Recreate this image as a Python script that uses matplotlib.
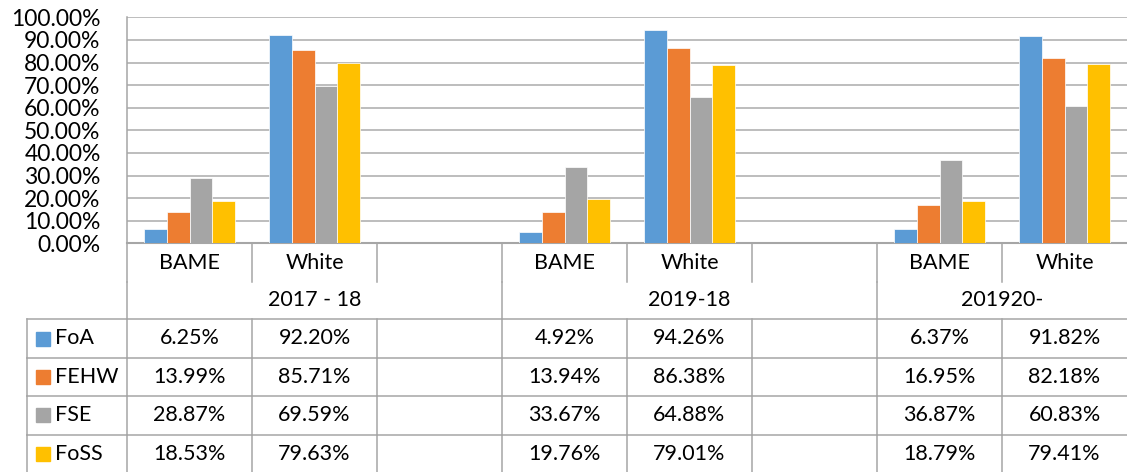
import numpy as np
import matplotlib
matplotlib.use('Agg')
import matplotlib.pyplot as plt

plt.rcParams['font.family'] = ['Lato', 'DejaVu Sans']

categories = ['BAME', 'White', '', 'BAME', 'White', '', 'BAME', 'White']
groups = ['2017 - 18', '2019-18', '201920-']
series = ['FoA', 'FEHW', 'FSE', 'FoSS']
colors = ['#5B9BD5', '#ED7D31', '#A5A5A5', '#FFC000']

foa = [6.25, 92.20, 4.92, 94.26, 6.37, 91.82]
fehw = [13.99, 85.71, 13.94, 86.38, 16.95, 82.18]
fse = [28.87, 69.59, 33.67, 64.88, 36.87, 60.83]
foss = [18.53, 79.63, 19.76, 79.01, 18.79, 79.41]
values = [foa, fehw, fse, foss]

W, H = 1127, 472
fig = plt.figure(figsize=(W / 100, H / 100), dpi=100)

# pixel layout
left, right, top, bottom = 127, 1127, 17.3, 243.3
ax = fig.add_axes([left / W, (H - bottom) / H, (right - left) / W, (bottom - top) / H])

# category positions: BAME/White for each group, with an empty slot between groups
cat_pos = []
for g in range(len(groups)):
    cat_pos += [3 * g, 3 * g + 1]
cat_pos = np.array(cat_pos)

bw = 0.182
for j, (name, vals) in enumerate(zip(series, values)):
    ax.bar(cat_pos + (j - 1.5) * bw, vals, width=bw, color=colors[j],
           edgecolor='white', linewidth=0.5, zorder=3)

ax.set_xlim(-0.5, len(categories) - 0.5)
ax.set_ylim(0, 100)
ax.set_yticks(np.arange(0, 101, 10))
ax.set_yticklabels(['%.2f%%' % v for v in np.arange(0, 101, 10)], fontsize=16.5)
ax.tick_params(axis='y', length=0, pad=19)
ax.set_xticks([])
ax.grid(axis='y', color='#ABABAB', linewidth=1.1, zorder=0)
for s in ['top', 'right']:
    ax.spines[s].set_visible(False)
ax.spines['left'].set_color('#A6A6A6')
ax.spines['bottom'].set_color('#A6A6A6')
ax.spines['left'].set_linewidth(1.1)
ax.spines['bottom'].set_linewidth(1.5)

# data table underneath, in pixel coordinates
tb = fig.add_axes([0, 0, 1, 1], zorder=-1)
tb.set_xlim(0, W)
tb.set_ylim(H, 0)
tb.axis('off')
lc = '#A6A6A6'
fs = 15.5
cw = (right - left) / len(categories)
cat_row_bottom = 282
grp_row_bottom = 319.3
row_h = 38.4
tbl_left = 27.3

# category label row
for i, c in enumerate(categories):
    x0 = left + cw * i
    tb.plot([x0, x0], [bottom, cat_row_bottom], color=lc, lw=1.1)
    tb.text(x0 + cw / 2, 263, c, ha='center', va='center', fontsize=fs)

# group label row
for g, name in enumerate(groups):
    x0 = left + cw * 3 * g
    x1 = min(left + cw * (3 * g + 3), right)
    tb.plot([x0, x0], [cat_row_bottom, grp_row_bottom], color=lc, lw=1.1)
    tb.text((x0 + x1) / 2, 300, name, ha='center', va='center', fontsize=fs)

# series rows
for r, (name, vals) in enumerate(zip(series, values)):
    y0 = grp_row_bottom + row_h * r
    yc = y0 + row_h / 2
    tb.plot([tbl_left, right], [y0, y0], color=lc, lw=1.1)
    tb.plot([tbl_left, tbl_left], [y0, y0 + row_h], color=lc, lw=1.1)
    tb.add_patch(plt.Rectangle((36, yc - 7), 14, 14, color=colors[r]))
    tb.text(55, yc, name, ha='left', va='center', fontsize=fs)
    for i in range(len(categories)):
        x0 = left + cw * i
        tb.plot([x0, x0], [y0, y0 + row_h], color=lc, lw=1.1)
    for k, v in enumerate(vals):
        tb.text(left + cw * (cat_pos[k] + 0.5), yc, '%.2f%%' % v,
                ha='center', va='center', fontsize=fs)

fig.savefig('out.png', dpi=100)
